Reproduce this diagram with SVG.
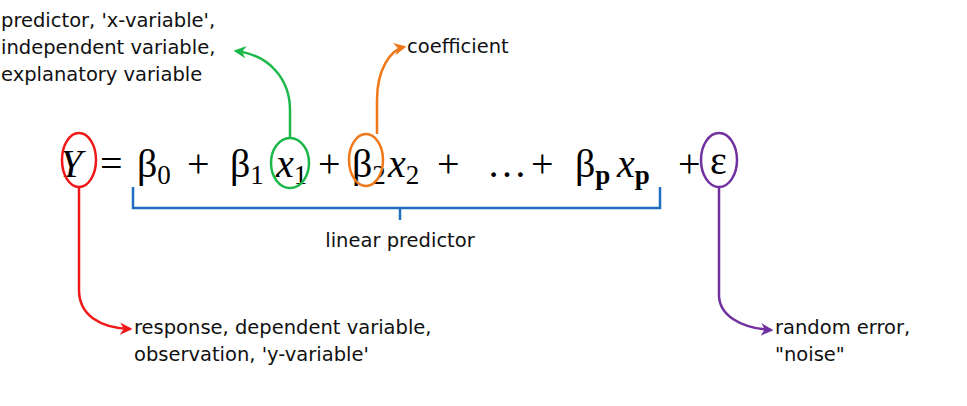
<svg xmlns="http://www.w3.org/2000/svg" width="967" height="406" viewBox="0 0 967 406">
<style>
.eq{font-family:"Liberation Serif",serif;font-size:40px;fill:#000}
.it{font-style:italic}
.sub{font-size:27px}
.lab{font-family:"DejaVu Sans",Verdana,sans-serif;font-size:19.5px;fill:#111}
.c{fill:none;stroke-width:2.5}
</style>
<defs>
<marker id="ar" viewBox="0 0 10 10" refX="8" refY="5" markerWidth="5" markerHeight="5" orient="auto" markerUnits="strokeWidth"><path d="M0,0 L10,5 L0,10 L3,5 z" fill="context-stroke"/></marker>
</defs>
<rect width="967" height="406" fill="#fff"/>
<g id="equation">
<text class="eq it" x="60" y="177">Y</text>
<text class="eq" x="100" y="177">=</text>
<text class="eq" x="137" y="177">β<tspan class="sub" dy="7">0</tspan></text>
<text class="eq" x="187" y="177">+</text>
<text class="eq" x="230" y="177">β<tspan class="sub" dy="7">1</tspan></text>
<text class="eq it" x="276" y="177">x<tspan class="sub" font-style="normal" dy="7">1</tspan></text>
<text class="eq" x="318" y="177">+</text>
<text class="eq" x="352" y="177">β<tspan class="sub" dy="7">2</tspan></text>
<text class="eq it" x="388" y="177">x<tspan class="sub" font-style="normal" dy="7">2</tspan></text>
<text class="eq" x="437" y="177">+</text>
<text class="eq" x="487" y="177" font-size="26">…</text>
<text class="eq" x="531" y="177">+</text>
<text class="eq" x="575" y="177">β<tspan class="sub" font-weight="bold" dy="7">p</tspan></text>
<text class="eq it" x="617" y="177">x<tspan class="sub" font-style="normal" font-weight="bold" dy="7">p</tspan></text>
<text class="eq" x="678" y="177">+</text>
<text class="eq" x="710" y="174" font-size="34">ε</text>
</g>
<g id="n-y"><ellipse cx="79" cy="160" rx="17" ry="27" class="c" stroke="#f01818"/></g>
<g id="n-x1"><ellipse cx="290" cy="163" rx="19" ry="25" class="c" stroke="#1cb84a"/></g>
<g id="n-b2"><ellipse cx="366" cy="160" rx="17" ry="26" class="c" stroke="#f07818"/></g>
<g id="n-eps"><ellipse cx="719" cy="160" rx="18" ry="27" class="c" stroke="#7030a0"/></g>
<g id="n-brace"><path d="M133,187 V208 H660 V187 M400,208 V220" class="c" stroke="#1f6fc0" stroke-width="2.2"/>
<text class="lab" x="400" y="247" text-anchor="middle">linear predictor</text></g>
<g id="l-pred"><text class="lab" x="1" y="27">predictor,  'x-variable',</text><text class="lab" x="1" y="54">independent variable,</text><text class="lab" x="1" y="81">explanatory variable</text></g>
<g id="l-coef"><text class="lab" x="407" y="53">coefficient</text></g>
<g id="l-resp"><text class="lab" x="134" y="334">response, dependent variable,</text><text class="lab" x="134" y="361">observation, 'y-variable'</text></g>
<g id="l-err"><text class="lab" x="775" y="334">random error,</text><text class="lab" x="775" y="361">"noise"</text></g>
<g id="connectors">
<path d="M290,138 V110 C290,80 270,55 236,51" class="c" stroke="#1cb84a" marker-end="url(#ar)"/>
<path d="M377,134 V100 C377,70 390,50 404,47" class="c" stroke="#f07818" marker-end="url(#ar)"/>
<path d="M79,187 V290 C79,315 100,328 130,329" class="c" stroke="#f01818" marker-end="url(#ar)"/>
<path d="M719,187 V295 C719,315 740,328 771,330" class="c" stroke="#7030a0" marker-end="url(#ar)"/>
</g>
</svg>
